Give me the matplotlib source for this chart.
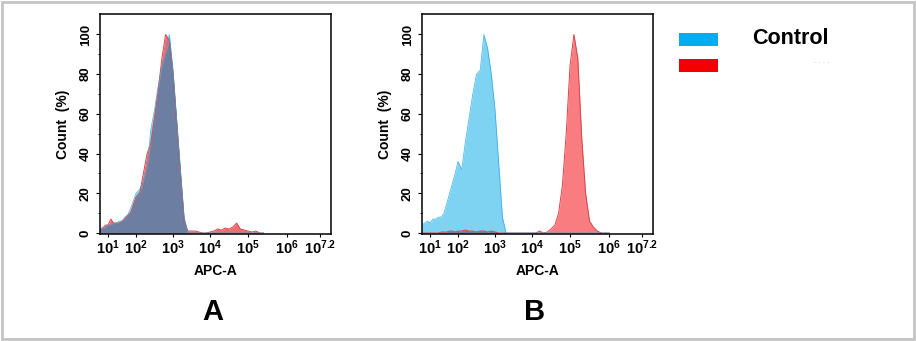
import numpy as np
import matplotlib
matplotlib.use("Agg")
import matplotlib.pyplot as plt
from matplotlib.patches import Rectangle

plt.rcParams["font.family"] = ["Liberation Sans", "DejaVu Sans"]
plt.rcParams["font.weight"] = "bold"
plt.rcParams["mathtext.fontset"] = "custom"
plt.rcParams["mathtext.rm"] = "Liberation Sans:bold"
plt.rcParams["mathtext.bf"] = "Liberation Sans:bold"
plt.rcParams["mathtext.default"] = "rm"

# ======================
# DATA (x in log10 decades, y in % of max)
# ======================
X_A = np.round(np.arange(0.7, 5.45, 0.1), 2)   # 48 bins
CONTROL_A = [2, 3, 3, 4, 4, 5, 5, 6, 6, 8,
             9, 12, 16, 20, 22, 26, 33, 52, 62, 74,
             84, 90, 100, 82, 57, 32, 8, 0, 0, 0,
             0, 0, 0, 0, 0, 0, 0, 0, 0, 0,
             0, 0, 0, 0, 0, 0, 0, 0]
SAMPLE_A = [2, 2, 4, 4, 7, 5, 5, 5, 6, 7,
            9, 10, 14, 18, 20, 30, 40, 45, 58, 72,
            88, 100, 97, 80, 55, 30, 6, 1, 1, 1,
            0.5, 0, 0, 0.5, 1, 2, 1.5, 2.5, 2, 3,
            5, 2, 1.5, 1, 0.5, 1, 0, 0]

X_B = np.round(np.arange(0.7, 6.05, 0.1), 2)   # 54 bins
CONTROL_B = [4, 5, 6, 5, 7, 7, 8, 8, 10, 15,
             20, 25, 30, 36, 32, 46, 58, 70, 80, 82,
             100, 93, 80, 62, 35, 8, 0, 0, 0, 0,
             0, 0, 0, 0, 0, 0, 0, 0, 0, 0,
             0, 0, 0, 0, 0, 0, 0, 0, 0, 0,
             0, 0, 0, 0]
SAMPLE_B = [0, 0, 0, 0, 0, 0, 0, 0.5, 0.5, 0.5,
            1, 1, 0.5, 1, 1, 1.5, 1, 1, 0.5, 1,
            1, 0.5, 1, 0.5, 0, 0, 0, 0, 0, 0,
            0, 0, 0, 0, 0, 1, 0, 0.5, 2, 4,
            10, 24, 50, 84, 100, 88, 48, 20, 6, 3,
            1, 0, 0, 0]

TICK_DECADES = [1, 2, 3, 4, 5, 6, 7.2]
TICK_LABELS = [r"$10^{1}$", r"$10^{2}$", r"$10^{3}$", r"$10^{4}$",
               r"$10^{5}$", r"$10^{6}$", r"$10^{7.2}$"]
Y_TICKS = [0, 20, 40, 60, 80, 100]

# ======================
# AXIS SCALE (biexponential-like display of decades)
# ======================
DEC_BP = np.array([-10, 0.7, 1, 2, 3, 4, 5, 6, 7.2, 7.5, 20])
POS_BP = np.array([-300, 0, 8, 36, 73, 110, 148, 187, 220, 231, 600], float)


def fwd(d):
    return np.interp(d, DEC_BP, POS_BP)


def inv(p):
    return np.interp(p, POS_BP, DEC_BP)


# ======================
# FIGURE SETUP
# ======================
W, H = 916, 341
fig = plt.figure(figsize=(W / 100, H / 100), dpi=100, facecolor="white")

# gray frame
fig.patches.append(Rectangle((2 / W, 2 / H), 1 - 4 / W, 1 - 4 / H,
                             transform=fig.transFigure, fill=False,
                             edgecolor="#c4c4c4", linewidth=2))

BLUE_EDGE = "#2aa9de"
RED_EDGE = "#d8464a"
OVERLAP = "#6c7fa2"


def draw_panel(left_px, x, blue, red, blue_fill, red_fill, letter):
    ax = fig.add_axes([left_px / W, 1 - 234 / H, 231 / W, 220 / H])
    blue = np.array(blue, float)
    red = np.array(red, float)

    ax.fill_between(x, blue, 0, color=blue_fill, lw=0)
    ax.fill_between(x, red, 0, color=red_fill, lw=0)
    ax.plot(x, red, color=RED_EDGE, lw=0.7)
    ax.fill_between(x, np.minimum(blue, red), 0, color=OVERLAP, lw=0)
    ax.plot(x, blue, color=BLUE_EDGE, lw=0.6, alpha=0.8)

    ax.set_xscale("function", functions=(fwd, inv))
    ax.set_xlim(0.7, 7.5)
    ax.set_ylim(-0.5, 110.3)
    ax.set_xticks(TICK_DECADES)
    ax.set_xticklabels(TICK_LABELS)
    ax.xaxis.set_minor_locator(plt.NullLocator())
    ax.set_yticks(Y_TICKS)
    ax.set_yticks(np.arange(10, 110, 20), minor=True)

    ax.tick_params(axis="x", which="major", length=2, width=0.8, pad=1,
                   labelsize=10.5)
    ax.tick_params(axis="y", which="major", length=3, width=0.8, pad=3,
                   labelsize=9.5, labelrotation=90)
    ax.tick_params(axis="y", which="minor", length=1.5, width=0.6)
    for lab in ax.get_yticklabels():
        lab.set_va("center")
        lab.set_fontweight("bold")

    for sp in ax.spines.values():
        sp.set_linewidth(1.1)
        sp.set_color("black")

    ax.set_xlabel("APC-A", fontsize=10, fontweight="bold", labelpad=5)
    ax.set_ylabel("Count  (%)", fontsize=10, fontweight="bold", labelpad=7)

    fig.text((left_px + 113) / W, 1 - 312 / H, letter, fontsize=21,
             fontweight="bold", ha="center", va="center")
    return ax


axA = draw_panel(100, X_A, CONTROL_A, SAMPLE_A, "#5fc7ee", "#f06c6e", "A")
axB = draw_panel(422, X_B, CONTROL_B, SAMPLE_B, "#7fd3f2", "#f87c80", "B")

# ======================
# LEGEND
# ======================
fig.patches.append(Rectangle((679 / W, 1 - 46 / H), 39 / W, 13 / H,
                             transform=fig.transFigure, color="#00aeef",
                             lw=0))
fig.patches.append(Rectangle((679 / W, 1 - 72 / H), 39 / W, 13 / H,
                             transform=fig.transFigure, color="#f40000",
                             lw=0))
fig.text(752 / W, 1 - 38 / H, "Control", fontsize=15.5, fontweight="bold",
         ha="left", va="center")
fig.text(822 / W, 1 - 63 / H, "- - - -", fontsize=5, color="#e2e2e2",
         ha="center", va="center")

fig.savefig("out.png", dpi=100, facecolor="white")
